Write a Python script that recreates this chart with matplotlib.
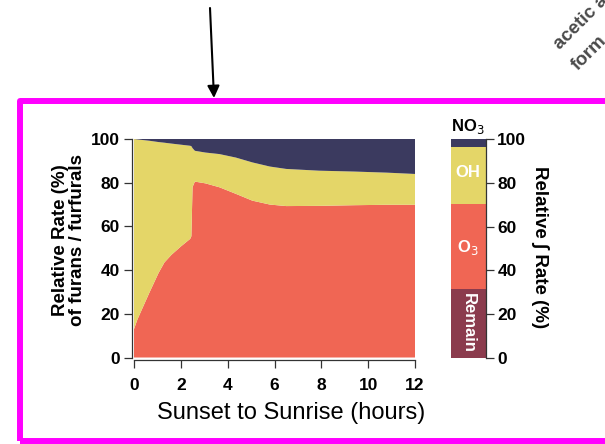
import matplotlib
matplotlib.use("Agg")
import matplotlib.pyplot as plt
from matplotlib.patches import Rectangle, FancyArrowPatch

plt.rcParams['font.family'] = ['Liberation Sans', 'DejaVu Sans']

# ---- data ----
hours = [0, 0.15, 0.65, 1.05, 1.3, 1.6, 2.0, 2.4, 2.45, 2.5, 2.6, 3.05,
         3.65, 4.35, 5.05, 5.8, 6.5, 7.9, 9.4, 10.8, 12.0]
o3_share = [13.0, 17.5, 29.5, 38.7, 43.5, 47.0, 50.8, 54.3, 55.5, 78.0, 80.5, 79.7,
            77.9, 74.9, 71.8, 70.0, 69.3, 69.4, 69.7, 69.9, 69.9]
oh_share = [87.0, 82.3, 69.7, 59.9, 54.8, 50.9, 46.6, 42.6, 41.2, 17.8, 14.1, 14.1,
            15.2, 16.6, 17.5, 17.4, 17.0, 16.1, 15.4, 14.7, 14.1]
no3_share = [0.0, 0.2, 0.8, 1.4, 1.7, 2.1, 2.6, 3.1, 3.3, 4.2, 5.4, 6.2,
             6.9, 8.5, 10.7, 12.6, 13.7, 14.5, 14.9, 15.4, 16.0]

bar_labels = ['Remain', 'O$_3$', 'OH', 'NO$_3$']
bar_values = [31.5, 39.0, 25.8, 3.7]

x_ticks = [0, 2, 4, 6, 8, 10, 12]
y_ticks = [0, 20, 40, 60, 80, 100]

corner_texts = ['acetic a', 'form']

c_o3 = '#f06654'
c_oh = '#e4d668'
c_no3 = '#3b3a5f'
c_rem = '#8b3b4d'
spine_c = '#333333'

W, H = 605, 444
fig = plt.figure(figsize=(W / 100, H / 100), dpi=100)

def fx(px):
    return px / W

def fy(py):
    return 1 - py / H

# ---- main axes ----
ax = fig.add_axes([fx(134), fy(357.5), fx(415) - fx(134), fy(139) - fy(357.5)])
ax.stackplot(hours, o3_share, oh_share, no3_share,
             colors=[c_o3, c_oh, c_no3], linewidth=0)
ax.set_xlim(0, 12)
ax.set_ylim(0, 100)
ax.set_xticks(x_ticks)
ax.set_yticks(y_ticks)
for s in ['top', 'right']:
    ax.spines[s].set_visible(False)
for s in ['left', 'bottom']:
    ax.spines[s].set_color(spine_c)
    ax.spines[s].set_linewidth(0.9)
    ax.spines[s].set_position(('outward', 1.5))
ax.tick_params(axis='both', direction='out', length=6, width=0.9, color=spine_c,
               labelsize=12.5)
ax.tick_params(axis='x', pad=7.5)
ax.tick_params(axis='y', pad=2.5)
for lab in ax.get_xticklabels() + ax.get_yticklabels():
    lab.set_fontweight('bold')

fig.text(fx(291), fy(419), 'Sunset to Sunrise (hours)', ha='center', va='baseline',
         fontsize=17)
fig.text(fx(69), fy(240), 'Relative Rate (%)\nof furans / furfurals', ha='center',
         va='center', rotation=90, fontsize=13.5, fontweight='bold',
         linespacing=0.95, multialignment='center')

# ---- bar axes ----
bx = fig.add_axes([fx(451), fy(358), fx(485.5) - fx(451), fy(139) - fy(358)])
bottom = 0
bar_colors = [c_rem, c_o3, c_oh, c_no3]
for v, c in zip(bar_values, bar_colors):
    bx.bar([0], [v], bottom=bottom, width=1.0, color=c, linewidth=0)
    bottom += v
bx.set_xlim(-0.5, 0.5)
bx.set_ylim(0, 100)
bx.set_xticks([])
bx.set_yticks(y_ticks)
bx.yaxis.tick_right()
for s in ['top', 'left', 'bottom']:
    bx.spines[s].set_visible(False)
bx.spines['right'].set_color(spine_c)
bx.spines['right'].set_linewidth(0.9)
bx.tick_params(axis='y', direction='out', length=6, width=0.9, color=spine_c,
               labelsize=12.5, pad=2.5)
for lab in bx.get_yticklabels():
    lab.set_fontweight('bold')

bx.text(0, 16, bar_labels[0], ha='center', va='center', rotation=-90,
        color='white', fontsize=12, fontweight='bold')
bx.text(0, 50.5, bar_labels[1], ha='center', va='center', color='white',
        fontsize=12, fontweight='bold')
bx.text(0, 84.5, bar_labels[2], ha='center', va='center', color='white',
        fontsize=12, fontweight='bold')
bx.text(0, 101.5, bar_labels[3], ha='center', va='bottom', color='black',
        fontsize=12, fontweight='bold', clip_on=False)

fig.text(fx(540), fy(247), 'Relative \u222b Rate (%)', ha='center', va='center',
         rotation=-90, fontsize=13.5, fontweight='bold')

# ---- surrounding decorations ----
rect = Rectangle((fx(20), fy(441)), fx(700) - fx(20), fy(101) - fy(441),
                 transform=fig.transFigure, fill=False, edgecolor='#ff00ff',
                 linewidth=4.3, joinstyle='round')
fig.patches.append(rect)

arrow = FancyArrowPatch((fx(210), fy(8)), (fx(214), fy(98)),
                        transform=fig.transFigure,
                        arrowstyle='-|>,head_length=0.6,head_width=0.3',
                        mutation_scale=12, color='black', linewidth=1.5,
                        shrinkA=0, shrinkB=0)
fig.patches.append(arrow)

fig.text(fx(560), fy(50), corner_texts[0], rotation=45, rotation_mode='anchor',
         ha='left', va='baseline', fontsize=13.5, color='#4a4a4a', fontweight='bold')
fig.text(fx(578), fy(71), corner_texts[1], rotation=45, rotation_mode='anchor',
         ha='left', va='baseline', fontsize=13.5, color='#4a4a4a', fontweight='bold')

fig.savefig('out.png', dpi=100)
